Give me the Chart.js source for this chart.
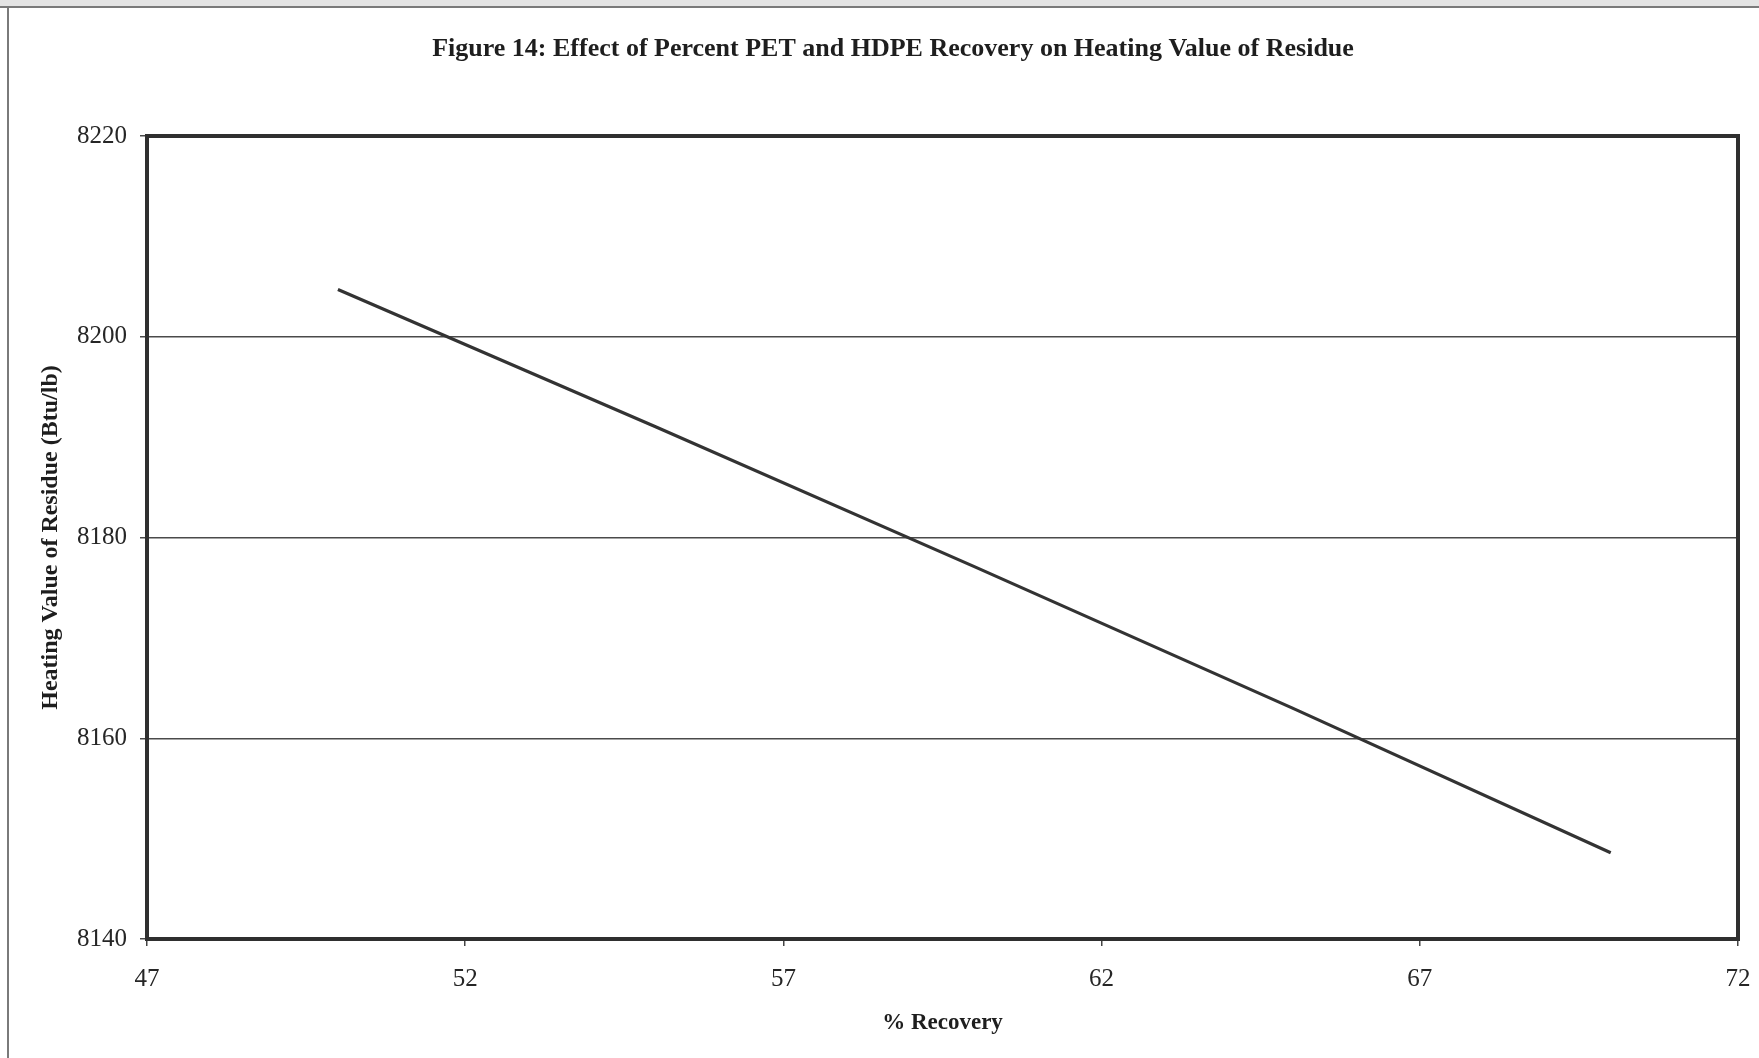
<!DOCTYPE html>
<html>
<head>
<meta charset="utf-8">
<title>Figure 14</title>
<script src="https://cdn.jsdelivr.net/npm/chart.js@4/dist/chart.umd.min.js"></script>
<style>
  html, body { margin: 0; padding: 0; background: #ffffff; overflow: hidden; }
  #wrap { position: relative; width: 1759px; height: 1058px; }
</style>
</head>
<body>
<div id="wrap"><canvas id="chart"></canvas></div>
<script>
// Percent PET and HDPE recovery vs. heating value of the residue
const recovery = [50, 55, 60, 65, 70];
const heatingValue = [8204.7, 8191.0, 8177.1, 8163.0, 8148.6];

const xTickValues = [47, 52, 57, 62, 67, 72];
const yTickValues = [8140, 8160, 8180, 8200, 8220];

const titleText = 'Figure 14: Effect of Percent PET and HDPE Recovery on Heating Value of Residue';
const xTitle = '% Recovery';
const yTitle = 'Heating Value of Residue (Btu/lb)';

const SERIF = '"Liberation Serif", "Times New Roman", serif';
const INK = '#262626';

// Page edge lines from the printed sheet, plus the heavy frame round the plot area
const pageFrame = {
  id: 'pageFrame',
  beforeDraw(chart) {
    const ctx = chart.ctx;
    ctx.save();
    ctx.fillStyle = '#ffffff';
    ctx.fillRect(0, 0, chart.width, chart.height);
    ctx.fillStyle = '#e4e4e4';
    ctx.fillRect(0, 0, chart.width, 6);
    ctx.strokeStyle = '#7a7a7a';
    ctx.lineWidth = 2;
    ctx.beginPath();
    ctx.moveTo(0, 7);
    ctx.lineTo(chart.width, 7);
    ctx.moveTo(8, 7);
    ctx.lineTo(8, chart.height);
    ctx.stroke();
    ctx.restore();
  },
  afterDraw(chart) {
    const a = chart.chartArea;
    const ctx = chart.ctx;
    ctx.save();
    ctx.strokeStyle = '#2f2f2f';
    ctx.lineWidth = 4;
    ctx.strokeRect(a.left, a.top, a.right - a.left, a.bottom - a.top);
    ctx.restore();
  }
};

const plainNumber = v => String(v);

new Chart(document.getElementById('chart'), {
  type: 'scatter',
  data: {
    datasets: [{
      label: 'Heating value',
      data: recovery.map((r, i) => ({ x: r, y: heatingValue[i] })),
      showLine: true,
      borderColor: '#333333',
      borderWidth: 3.2,
      pointRadius: 0,
      tension: 0,
      fill: false
    }]
  },
  options: {
    responsive: true,
    maintainAspectRatio: false,
    animation: false,
    layout: { padding: { left: 48, right: 21, top: 0, bottom: 0 } },
    plugins: {
      legend: { display: false },
      tooltip: { enabled: false },
      title: {
        display: true,
        text: titleText,
        color: '#1e1e1e',
        font: { family: SERIF, size: 26, weight: 'bold' },
        padding: { top: 34, bottom: 70.8 }
      }
    },
    scales: {
      x: {
        type: 'linear',
        min: 47,
        max: 72,
        afterBuildTicks(scale) { scale.ticks = xTickValues.map(v => ({ value: v })); },
        afterFit(scale) {
          scale.height = 119;
          // end labels fit inside the layout padding already
          scale.paddingLeft = 0;
          scale.paddingRight = 0;
        },
        grid: { drawOnChartArea: false, drawTicks: true, tickLength: 7, color: '#444', lineWidth: 1.5 },
        border: { display: false },
        ticks: { color: INK, font: { family: SERIF, size: 25 }, padding: 18, maxRotation: 0, callback: plainNumber },
        title: {
          display: true,
          text: xTitle,
          color: '#1e1e1e',
          font: { family: SERIF, size: 23, weight: 'bold' },
          padding: { top: 0, bottom: 21 }
        }
      },
      y: {
        type: 'linear',
        min: 8140,
        max: 8220,
        afterBuildTicks(scale) { scale.ticks = yTickValues.map(v => ({ value: v })); },
        afterFit(scale) { scale.width = 99; },
        grid: { drawOnChartArea: true, drawTicks: true, tickLength: 7, color: '#4a4a4a', lineWidth: 1.5 },
        border: { display: false },
        ticks: { color: INK, font: { family: SERIF, size: 25 }, padding: 13, callback: plainNumber },
        title: {
          display: true,
          text: yTitle,
          color: '#1e1e1e',
          font: { family: SERIF, size: 24, weight: 'bold' },
          padding: { top: -11.4, bottom: 0 }
        }
      }
    }
  },
  plugins: [pageFrame]
});
</script>
</body>
</html>
